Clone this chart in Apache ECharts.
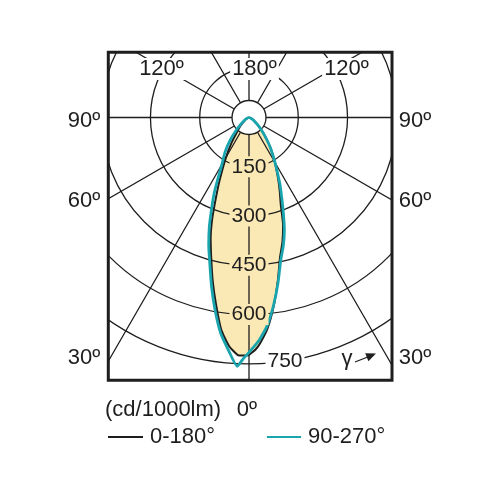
<!DOCTYPE html>
<html>
<head>
<meta charset="utf-8">
<script src="https://cdn.jsdelivr.net/npm/echarts@6/dist/echarts.min.js"></script>
<style>
  html, body { margin: 0; padding: 0; background: #fff; }
  #chart { width: 496px; height: 496px; }
</style>
</head>
<body>
<div id="chart"></div>
<script>
// gamma (deg from nadir), shared by every half plane
const gammas = [0, 1.5, 2.7, 5, 7.5, 10, 12.5, 15, 17.5, 20, 22.5, 25, 30, 35, 40, 45, 50, 60, 70, 90]
// intensities, cd/1000lm
const c0 = [724, 708, 690, 645, 578, 505, 436, 393, 345, 283, 245, 212, 158, 115, 78, 52, 33, 15, 6, 0]
const c180 = [726, 725, 724, 698, 650, 578, 510, 444, 388, 327, 262, 213, 140, 90, 55, 38, 25, 12, 5, 0]
const c90 = [715, 694, 677, 636, 575, 510, 446, 404, 358, 305, 259, 222, 158, 115, 78, 52, 33, 15, 6, 0]
const c270 = [715, 737, 758, 712, 662, 595, 527, 461, 408, 353, 296, 248, 165, 126, 88, 55, 33, 15, 6, 0]

const ringValues = [150, 300, 450, 600, 750]
const ringLabelAngles = [0, 0, 0, 0, 8.4]
const sideLabels = ['90º', '60º', '30º']
const topLabels = ['120º', '180º', '120º']
const legendNames = ['0-180°', '90-270°']

const cx = 249, cy = 117.5
const pxPerCd = 0.3285
const rMax = 1050
const frame = { x: 108.3, y: 52.3, w: 283.7, h: 328 }
const ink = '#1e1e1e'
const teal = '#1aa5ae'
const fillColor = '#fbe9b5'
const font = '"Liberation Sans", Arial, sans-serif'

// right half uses angle = gamma, left half uses 360 - gamma
function curve(right, left) {
  const pts = []
  for (let i = gammas.length - 1; i >= 0; i--) pts.push([right[i], gammas[i]])
  for (let i = 0; i < gammas.length; i++) pts.push([left[i], 360 - gammas[i]])
  return pts
}

const blackData = curve(c0, c180)
const tealData = curve(c90, c270)

const ringLabelData = ringValues.map((v, i) => ({
  value: [v, ringLabelAngles[i]],
  label: { backgroundColor: v === 750 ? '#fff' : fillColor }
}))

const chart = echarts.init(document.getElementById('chart'))

const texts = []
const sideY = [121, 201, 358]
sideLabels.forEach((t, i) => {
  texts.push({ type: 'text', x: 84, y: sideY[i], z: 102, style: { text: t, font: '22px ' + font, fill: ink, align: 'center', verticalAlign: 'middle' } })
  texts.push({ type: 'text', x: 415, y: sideY[i], z: 102, style: { text: t, font: '22px ' + font, fill: ink, align: 'center', verticalAlign: 'middle' } })
})
const topX = [161.5, 254.5, 346.5]
topLabels.forEach((t, i) => {
  texts.push({ type: 'text', x: topX[i], y: 69, z: 102, style: { text: t, font: '22px ' + font, fill: ink, align: 'center', verticalAlign: 'middle', backgroundColor: '#fff', padding: [0, 2] } })
})

const graphics = [
  // centre disc
  { type: 'circle', z: 4, shape: { cx: cx, cy: cy, r: 17 }, style: { fill: '#fff', stroke: ink, lineWidth: 1.3 } },
  // masks outside the frame
  { type: 'rect', z: 100, shape: { x: 0, y: 0, width: 496, height: frame.y }, style: { fill: '#fff' } },
  { type: 'rect', z: 100, shape: { x: 0, y: frame.y + frame.h, width: 496, height: 496 }, style: { fill: '#fff' } },
  { type: 'rect', z: 100, shape: { x: 0, y: 0, width: frame.x, height: 496 }, style: { fill: '#fff' } },
  { type: 'rect', z: 100, shape: { x: frame.x + frame.w, y: 0, width: 200, height: 496 }, style: { fill: '#fff' } },
  { type: 'rect', z: 101, shape: { x: frame.x, y: frame.y, width: frame.w, height: frame.h }, style: { fill: 'none', stroke: ink, lineWidth: 3 } },
  // gamma arrow
  { type: 'text', x: 347, y: 359, z: 102, style: { text: 'γ', font: '22px ' + font, fill: ink, align: 'center', verticalAlign: 'middle' } },
  { type: 'line', z: 102, shape: { x1: 355, y1: 362, x2: 369, y2: 356.5 }, style: { stroke: ink, lineWidth: 1.3 } },
  { type: 'polygon', z: 102, shape: { points: [[376, 353.5], [365.2, 353.3], [368.4, 361.2]] }, style: { fill: ink } },
  // legend
  { type: 'text', x: 105, y: 410, z: 102, style: { text: '(cd/1000lm)', font: '22px ' + font, fill: ink, align: 'left', verticalAlign: 'middle' } },
  { type: 'text', x: 247, y: 410, z: 102, style: { text: '0º', font: '22px ' + font, fill: ink, align: 'center', verticalAlign: 'middle' } },
  { type: 'line', z: 102, shape: { x1: 108, y1: 437, x2: 143, y2: 437 }, style: { stroke: ink, lineWidth: 2 } },
  { type: 'text', x: 150, y: 437, z: 102, style: { text: legendNames[0], font: '22px ' + font, fill: ink, align: 'left', verticalAlign: 'middle' } },
  { type: 'line', z: 102, shape: { x1: 267, y1: 437, x2: 301, y2: 437 }, style: { stroke: teal, lineWidth: 2 } },
  { type: 'text', x: 308, y: 437, z: 102, style: { text: legendNames[1], font: '22px ' + font, fill: ink, align: 'left', verticalAlign: 'middle' } }
].concat(texts)

chart.setOption({
  animation: false,
  polar: { center: [cx, cy], radius: [0, rMax * pxPerCd] },
  angleAxis: {
    type: 'value', min: 0, max: 360, interval: 30,
    startAngle: 270, clockwise: false, z: 3,
    axisLine: { show: false }, axisTick: { show: false }, axisLabel: { show: false },
    splitLine: { show: true, lineStyle: { color: ink, width: 1.3 } }
  },
  radiusAxis: {
    type: 'value', min: 0, max: rMax, interval: 150, z: 3,
    axisLine: { show: false }, axisTick: { show: false }, axisLabel: { show: false },
    splitLine: { show: true, lineStyle: { color: ['transparent', ink, ink, ink, ink, ink, 'transparent', 'transparent'], width: 1.3 } }
  },
  series: [
    {
      type: 'line', coordinateSystem: 'polar', data: blackData, symbol: 'none', smooth: 0.2,
      lineStyle: { width: 0 }, areaStyle: { color: fillColor, opacity: 1 }, z: 1, silent: true
    },
    {
      name: legendNames[0], type: 'line', coordinateSystem: 'polar', data: blackData, symbol: 'none', smooth: 0.2,
      lineStyle: { color: ink, width: 2 }, z: 6, silent: true
    },
    {
      name: legendNames[1], type: 'line', coordinateSystem: 'polar', data: tealData, symbol: 'none', smooth: 0.2,
      lineStyle: { color: teal, width: 2.8 }, z: 7, silent: true
    },
    {
      type: 'scatter', coordinateSystem: 'polar', data: ringLabelData, symbolSize: 0, z: 8, silent: true,
      itemStyle: { opacity: 1 },
      label: {
        show: true, position: 'inside', formatter: p => p.value[0],
        fontSize: 21, fontFamily: font, color: ink, padding: [0, 2]
      }
    }
  ],
  graphic: { elements: graphics }
})
</script>
</body>
</html>
